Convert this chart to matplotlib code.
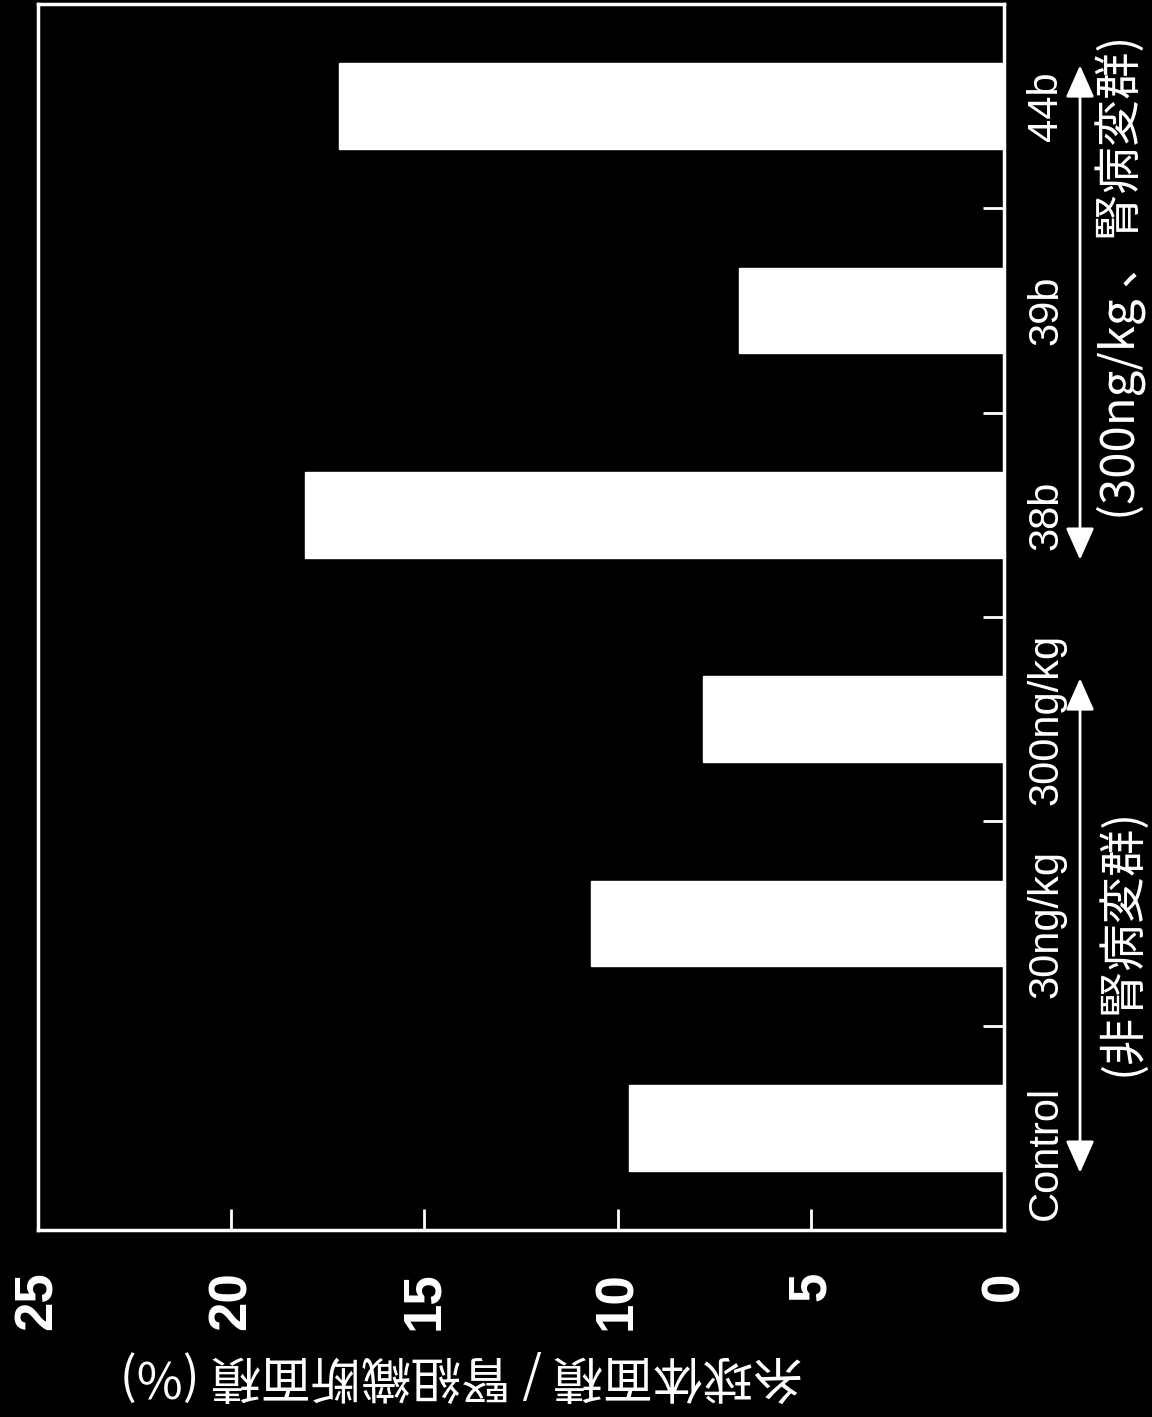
import numpy as np
import matplotlib.pyplot as plt
import matplotlib.transforms as mtransforms

# --- data ---
categories = ['Control', '30ng/kg', '300ng/kg', '38b', '39b', '44b']
values = [9.7, 10.7, 7.8, 18.1, 6.85, 17.2]
value_ticks = [0, 5, 10, 15, 20, 25]
value_label = '糸球体面積 / 腎組織断面積 (%)'
group_labels = ['(非腎病変群)', '(300ng/kg \u3001腎病変群)']
group_spans = [(0, 2), (3, 5)]   # category index ranges covered by each group arrow
group_text_y = [0.91, 4.16]

latin = ['Liberation Sans', 'DejaVu Sans']
cjk = ['Noto Sans CJK JP', 'DejaVu Sans']

fig = plt.figure(figsize=(11.52, 14.17), dpi=100, facecolor='black')
ax = fig.add_axes([38/1152, 1 - 1230/1417, (1004-38)/1152, (1230-4)/1417])
ax.set_facecolor('black')

pos = np.arange(len(categories))
ax.barh(pos, values, height=0.42, color='white', edgecolor='white')

ax.set_xlim(25, 0)
ax.set_ylim(-0.5, len(categories) - 0.5)

for s in ax.spines.values():
    s.set_color('white')
    s.set_linewidth(2.5)

# value axis (bottom)
ax.set_xticks(value_ticks)
ax.set_xticklabels([str(v) for v in value_ticks], rotation=90, fontsize=38,
                   fontweight='bold', color='white', family=latin)
ax.tick_params(axis='x', direction='in', length=15, width=2, color='white',
               pad=30, top=False)

# category axis (right)
ax.yaxis.tick_right()
ax.set_yticks(pos)
ax.set_yticklabels(categories, rotation=90, fontsize=30, color='white',
                   family=latin, va='center')
ax.set_yticks(pos[:-1] + 0.5, minor=True)
ax.tick_params(axis='y', which='major', length=0, pad=16)
ax.tick_params(axis='y', which='minor', direction='in', length=15, width=2,
               color='white', left=False, right=True)
# the Control label sits a little below its bar in the original
lab0 = ax.get_yticklabels()[0]
lab0.set_transform(lab0.get_transform() +
                   mtransforms.ScaledTranslation(0, -0.25, fig.dpi_scale_trans))

ax.set_xlabel(value_label, rotation=180, fontsize=36, color='white',
              family=cjk, va='center')
ax.xaxis.set_label_coords(0.438, (1230 - 1374) / 1226)

# group arrows and labels
for (lo, hi), lbl, ty in zip(group_spans, group_labels, group_text_y):
    ax.annotate('', xy=(1.0787, lo - 0.22), xytext=(1.0787, hi + 0.2),
                xycoords=('axes fraction', 'data'),
                textcoords=('axes fraction', 'data'),
                arrowprops=dict(arrowstyle='<|-|>,head_length=0.9,head_width=0.4',
                                color='white', lw=2, mutation_scale=22,
                                shrinkA=0, shrinkB=0),
                annotation_clip=False)
    ax.text(1.122, ty, lbl, transform=ax.get_yaxis_transform(),
            rotation=90, ha='center', va='center', fontsize=34, color='white',
            family=cjk, clip_on=False)

plt.savefig('out.png', dpi=100, facecolor='black')
